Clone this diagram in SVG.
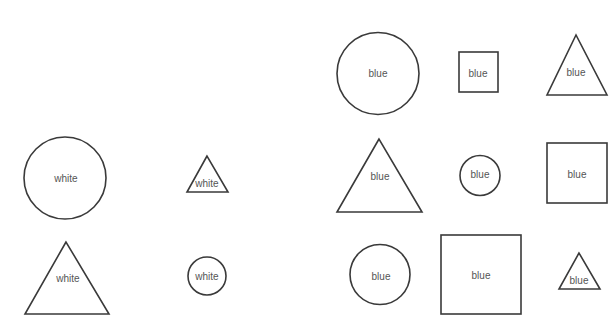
<svg xmlns="http://www.w3.org/2000/svg" width="616" height="330" viewBox="0 0 616 330">
<style>
.s{fill:none;stroke:#3a3a3a;stroke-width:1.6}
text{font-family:"Liberation Sans",Arial,sans-serif;font-size:10px;fill:#555;text-anchor:middle;dominant-baseline:central}
</style>
<rect width="616" height="330" fill="#fff"/>
<g id="w1"><circle class="s" cx="65" cy="178" r="41"/><text x="66" y="178">white</text></g>
<g id="w2"><polygon class="s" points="207,156 187,192 228,192"/><text x="207" y="183">white</text></g>
<g id="w3"><polygon class="s" points="66,242 25,314 109,314"/><text x="68" y="278">white</text></g>
<g id="w4"><circle class="s" cx="207" cy="276" r="19"/><text x="207" y="276">white</text></g>
<g id="b1"><circle class="s" cx="378" cy="73.5" r="41"/><text x="378" y="73">blue</text></g>
<g id="b2"><rect class="s" x="459" y="52" width="39" height="40"/><text x="478" y="73">blue</text></g>
<g id="b3"><polygon class="s" points="576,35 547,95 607,95"/><text x="576" y="72">blue</text></g>
<g id="b4"><polygon class="s" points="379,139 337,212 422,212"/><text x="380" y="176">blue</text></g>
<g id="b5"><circle class="s" cx="480" cy="175.5" r="20"/><text x="480" y="174">blue</text></g>
<g id="b6"><rect class="s" x="547" y="143" width="60" height="60"/><text x="577" y="174">blue</text></g>
<g id="b7"><circle class="s" cx="380" cy="274.5" r="30"/><text x="381" y="276">blue</text></g>
<g id="b8"><rect class="s" x="441" y="235" width="80" height="79"/><text x="481" y="275">blue</text></g>
<g id="b9"><polygon class="s" points="579,253 559,289 600,289"/><text x="579" y="280">blue</text></g>
<g id="connectors"></g>
</svg>
